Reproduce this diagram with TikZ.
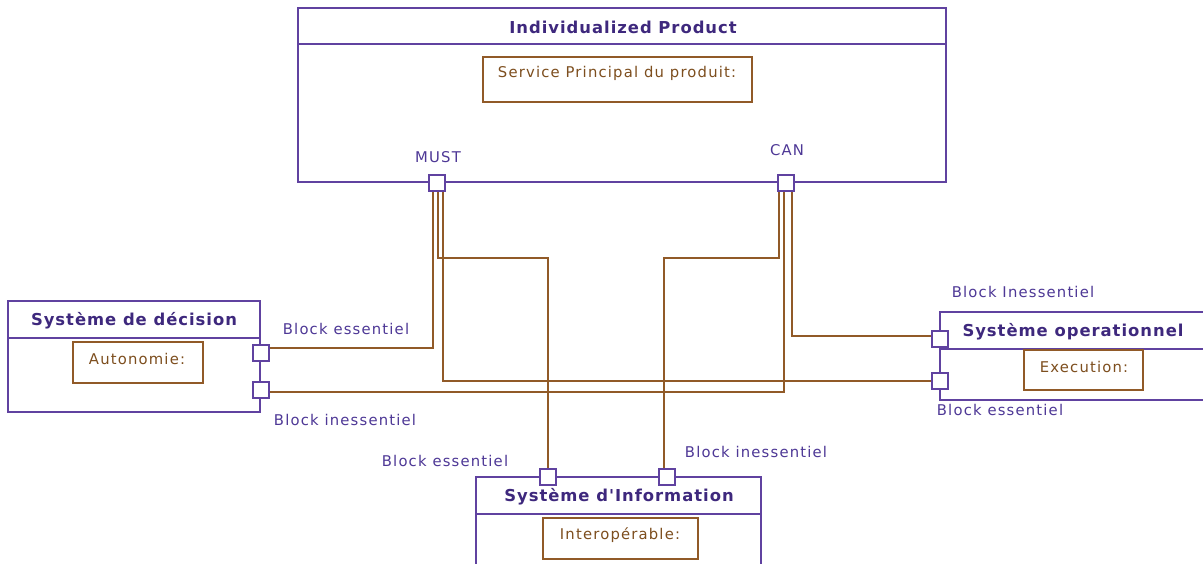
\documentclass[tikz,border=0pt]{standalone}
\usepackage{fontspec}
\setmainfont{DejaVu Sans}
\newfontfamily\lblfont[LetterSpace=8]{DejaVu Sans}
\newfontfamily\ttlfont[LetterSpace=6]{DejaVu Sans Bold}
\definecolor{boxcol}{RGB}{96,66,160}
\definecolor{titlecol}{RGB}{62,40,125}
\definecolor{labelcol}{RGB}{78,56,150}
\definecolor{wirecol}{RGB}{145,90,40}
\definecolor{innercol}{RGB}{125,78,30}
\tikzset{
  blockbox/.style={draw=boxcol, line width=1.5pt, fill=white, inner sep=0pt, outer sep=0pt},
  innerbox/.style={draw=wirecol, line width=1.5pt, fill=white, inner sep=0pt, outer sep=0pt},
  port/.style={draw=boxcol, line width=1.5pt, fill=white, minimum size=16pt, inner sep=0pt, outer sep=0pt},
  wire/.style={draw=wirecol, line width=1.6pt},
  divider/.style={draw=boxcol, line width=1.5pt},
  ttl/.style={text=titlecol, font=\ttlfont\fontsize{16.4}{18}\selectfont, inner sep=0pt},
  lbl/.style={text=labelcol, font=\lblfont\fontsize{14.8}{17}\selectfont, inner sep=0pt},
  innertxt/.style={text=innercol, font=\lblfont\fontsize{14.8}{17}\selectfont, inner sep=0pt}
}
\begin{document}
\begin{tikzpicture}[x=1pt, y=-1pt]
\useasboundingbox[fill=white] (0,0) rectangle (1203,563);
% ---- Individualized Product
\node[blockbox, minimum width=648pt, minimum height=174pt] (prod) at (622,95) {};
\draw[divider] (prod.west |- 0,44) coordinate (prodl) -- (prod.east |- 0,44) coordinate (prodr);
\node[ttl] (prodt) at (623,27) {Individualized Product};
\node[innerbox, minimum width=269pt, minimum height=45pt] (prodi) at (617.5,79.5) {};
\node[innertxt] (prodit) at (617,73) {Service Principal du produit:};
\node[lbl] (mustl) at (438,157) {MUST};
\node[lbl] (canl) at (787,150) {CAN};
% ---- Systeme de decision
\node[blockbox, minimum width=252pt, minimum height=111pt] (dec) at (134,356.5) {};
\draw[divider] (dec.west |- 0,338) coordinate (decl) -- (dec.east |- 0,338) coordinate (decr);
\node[ttl] (dect) at (134,321) {Système de décision};
\node[innerbox, minimum width=130pt, minimum height=41pt] (deci) at (138,362.5) {};
\node[innertxt] (decit) at (137,359) {Autonomie:};
% ---- Systeme operationnel
\node[blockbox, minimum width=275pt, minimum height=88pt] (op) at (1077.5,356) {};
\draw[divider] (op.west |- 0,349) coordinate (opl) -- (op.east |- 0,349) coordinate (opr);
\node[ttl] (opt) at (1073,332) {Système operationnel};
\node[innerbox, minimum width=119pt, minimum height=40pt] (opi) at (1083.5,370) {};
\node[innertxt] (opit) at (1084,367) {Execution:};
% ---- Systeme d'Information
\node[blockbox, minimum width=285pt, minimum height=110pt] (inf) at (618.5,532) {};
\draw[divider] (inf.west |- 0,514) coordinate (infl) -- (inf.east |- 0,514) coordinate (infr);
\node[ttl] (inft) at (619,497) {Système d'Information};
\node[innerbox, minimum width=155pt, minimum height=41pt] (infi) at (620.5,538.5) {};
\node[innertxt] (infit) at (620,535) {Interopérable:};
% ---- labels
\node[lbl] (l1) at (346,329) {Block essentiel};
\node[lbl] (l2) at (345,420) {Block inessentiel};
\node[lbl] (l3) at (1023,292) {Block Inessentiel};
\node[lbl] (l4) at (1000,410) {Block essentiel};
\node[lbl] (l5) at (445,461) {Block essentiel};
\node[lbl] (l6) at (756,452) {Block inessentiel};
% ---- ports
\node[port] (mustp) at (437,183) {};
\node[port] (canp) at (786,183) {};
\node[port] (dec1) at (261,353) {};
\node[port] (dec2) at (261,390) {};
\node[port] (op1) at (940,339) {};
\node[port] (op2) at (940,381) {};
\node[port] (inf1) at (548,477) {};
\node[port] (inf2) at (667,477) {};
% ---- wires
\draw[wire] ([xshift=-4pt]mustp.south) |- ([yshift=5pt]dec1.east);
\draw[wire] ([xshift=1pt]mustp.south) -- ++(0,67) -| (inf1.north);
\draw[wire] ([xshift=6pt]mustp.south) |- (op2.west);
\draw[wire] ([xshift=-7pt]canp.south) -- ++(0,67) -| ([xshift=-3pt]inf2.north);
\draw[wire] ([xshift=-2pt]canp.south) |- ([yshift=-2pt]dec2.east);
\draw[wire] ([xshift=6pt]canp.south) |- ([yshift=3pt]op1.west);
% redraw ports on top
\node[port] at (mustp) {};
\node[port] at (canp) {};
\node[port] at (dec1) {};
\node[port] at (dec2) {};
\node[port] at (op1) {};
\node[port] at (op2) {};
\node[port] at (inf1) {};
\node[port] at (inf2) {};
\end{tikzpicture}
\end{document}
